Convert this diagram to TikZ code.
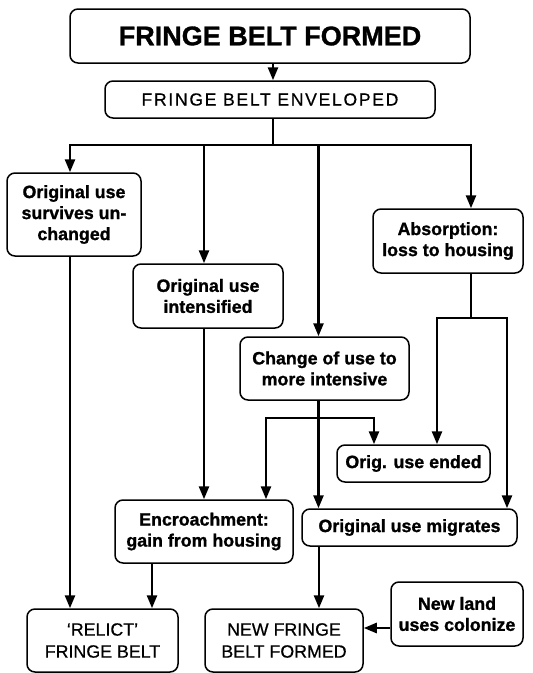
\documentclass[tikz,border=0pt]{standalone}
\usepackage{fontspec}
\setmainfont{Liberation Sans}[BoldFeatures={FakeBold=1.2}]
\newfontfamily\spacedfont[Ligatures=TeX,LetterSpace=10,FakeBold=0.6]{Liberation Sans}
\newfontfamily\capsfont[Ligatures=TeX,FakeBold=0.6]{Liberation Sans}
\usetikzlibrary{arrows.meta, positioning}

\tikzset{
  box/.style={draw, rounded corners=8pt, line width=1.5pt, align=center,
    inner sep=2pt, font=\bfseries\fontsize{17.8}{21}\selectfont},
  capbox/.style={box, font=\capsfont\fontsize{17.8}{22}\selectfont},
  link/.style={line width=2.6pt, ->},
  trunk/.style={line width=2.6pt},
}

\begin{document}
\begin{tikzpicture}[x=1pt,y=-1pt,>={Triangle[length=13pt,width=10pt]}]
\useasboundingbox (0,0) rectangle (533,673);

% boxes
\node[box, minimum width=400pt, minimum height=54pt,
  font=\bfseries\fontsize{27}{30}\selectfont] (formed) at (270,36) {FRINGE BELT FORMED};
\node[capbox, minimum width=330pt, minimum height=37pt,
  font=\spacedfont\fontsize{17.5}{21}\selectfont] (envel) at (270,99.5) {FRINGE BELT ENVELOPED};
\node[box, minimum width=134pt, minimum height=83pt] (survives) at (74,214.5) {Original use\\survives un-\\changed};
\node[box, minimum width=150pt, minimum height=64pt] (intens) at (208,296) {Original use\\intensified};
\node[box, minimum width=169pt, minimum height=63pt] (change) at (324.5,368.5) {Change of use to\\more intensive};
\node[box, minimum width=150pt, minimum height=64pt] (absorb) at (448,241) {Absorption:\\loss to housing};
\node[box, minimum width=153pt, minimum height=37pt] (ended) at (413.5,463.5) {Orig. use ended};
\node[box, minimum width=178pt, minimum height=63pt] (encroach) at (204,531.5) {Encroachment:\\gain from housing};
\node[box, minimum width=215pt, minimum height=37pt] (migrates) at (409.5,527.5) {Original use migrates};
\node[capbox, minimum width=151pt, minimum height=63pt] (relict) at (102.5,640.5) {‘RELICT’\\FRINGE BELT};
\node[capbox, minimum width=158pt, minimum height=63pt] (newbelt) at (284,640.5) {NEW FRINGE\\BELT FORMED};
\node[box, minimum width=132pt, minimum height=64pt] (newland) at (457,614) {New land\\uses colonize};

% connector points
\coordinate (f1) at ([xshift=3pt]formed.south);
\coordinate (e1) at ([xshift=3pt]envel.south);
\coordinate (split) at (273,145);
\coordinate (s1) at ([xshift=-4pt]survives.south);
\coordinate (i1) at ([xshift=-4pt]intens.south);
\coordinate (cfork) at (318,418);
\coordinate (c1) at ([xshift=-6pt]change.south);
\coordinate (a1) at ([xshift=23pt]absorb.south);
\coordinate (afork) at (471,318);
\coordinate (g1) at ([xshift=-52pt]encroach.south);
\coordinate (m1) at ([xshift=-90.5pt]migrates.south);
\coordinate (n1) at ([yshift=-14pt]newland.west);

% connectors
\draw[link] (f1) -- (f1 |- envel.north);
\draw[trunk] (e1) -- (split);
\draw[link] (split) -| ([xshift=-4pt]survives.north);
\draw[link] (split) -| ([xshift=-4pt]intens.north);
\draw[link] (split) -| ([xshift=-6pt]change.north);
\draw[link] (split) -| ([xshift=23pt]absorb.north);
\draw[link] (s1) -- (s1 |- relict.north);
\draw[link] (i1) -- (i1 |- encroach.north);
\draw[link] (c1) -- (c1 |- migrates.north);
\draw[link] (cfork) -| ([xshift=62pt]encroach.north);
\draw[link] (cfork) -| ([xshift=-39.5pt]ended.north);
\draw[trunk] (a1) -- (afork);
\draw[link] (afork) -| ([xshift=23.5pt]ended.north);
\draw[link] (afork) -| ([xshift=97.5pt]migrates.north);
\draw[link] (g1) -- (g1 |- relict.north);
\draw[link] (m1) -- (m1 |- newbelt.north);
\draw[link] (n1) -- (n1 -| newbelt.east);
\end{tikzpicture}
\end{document}
